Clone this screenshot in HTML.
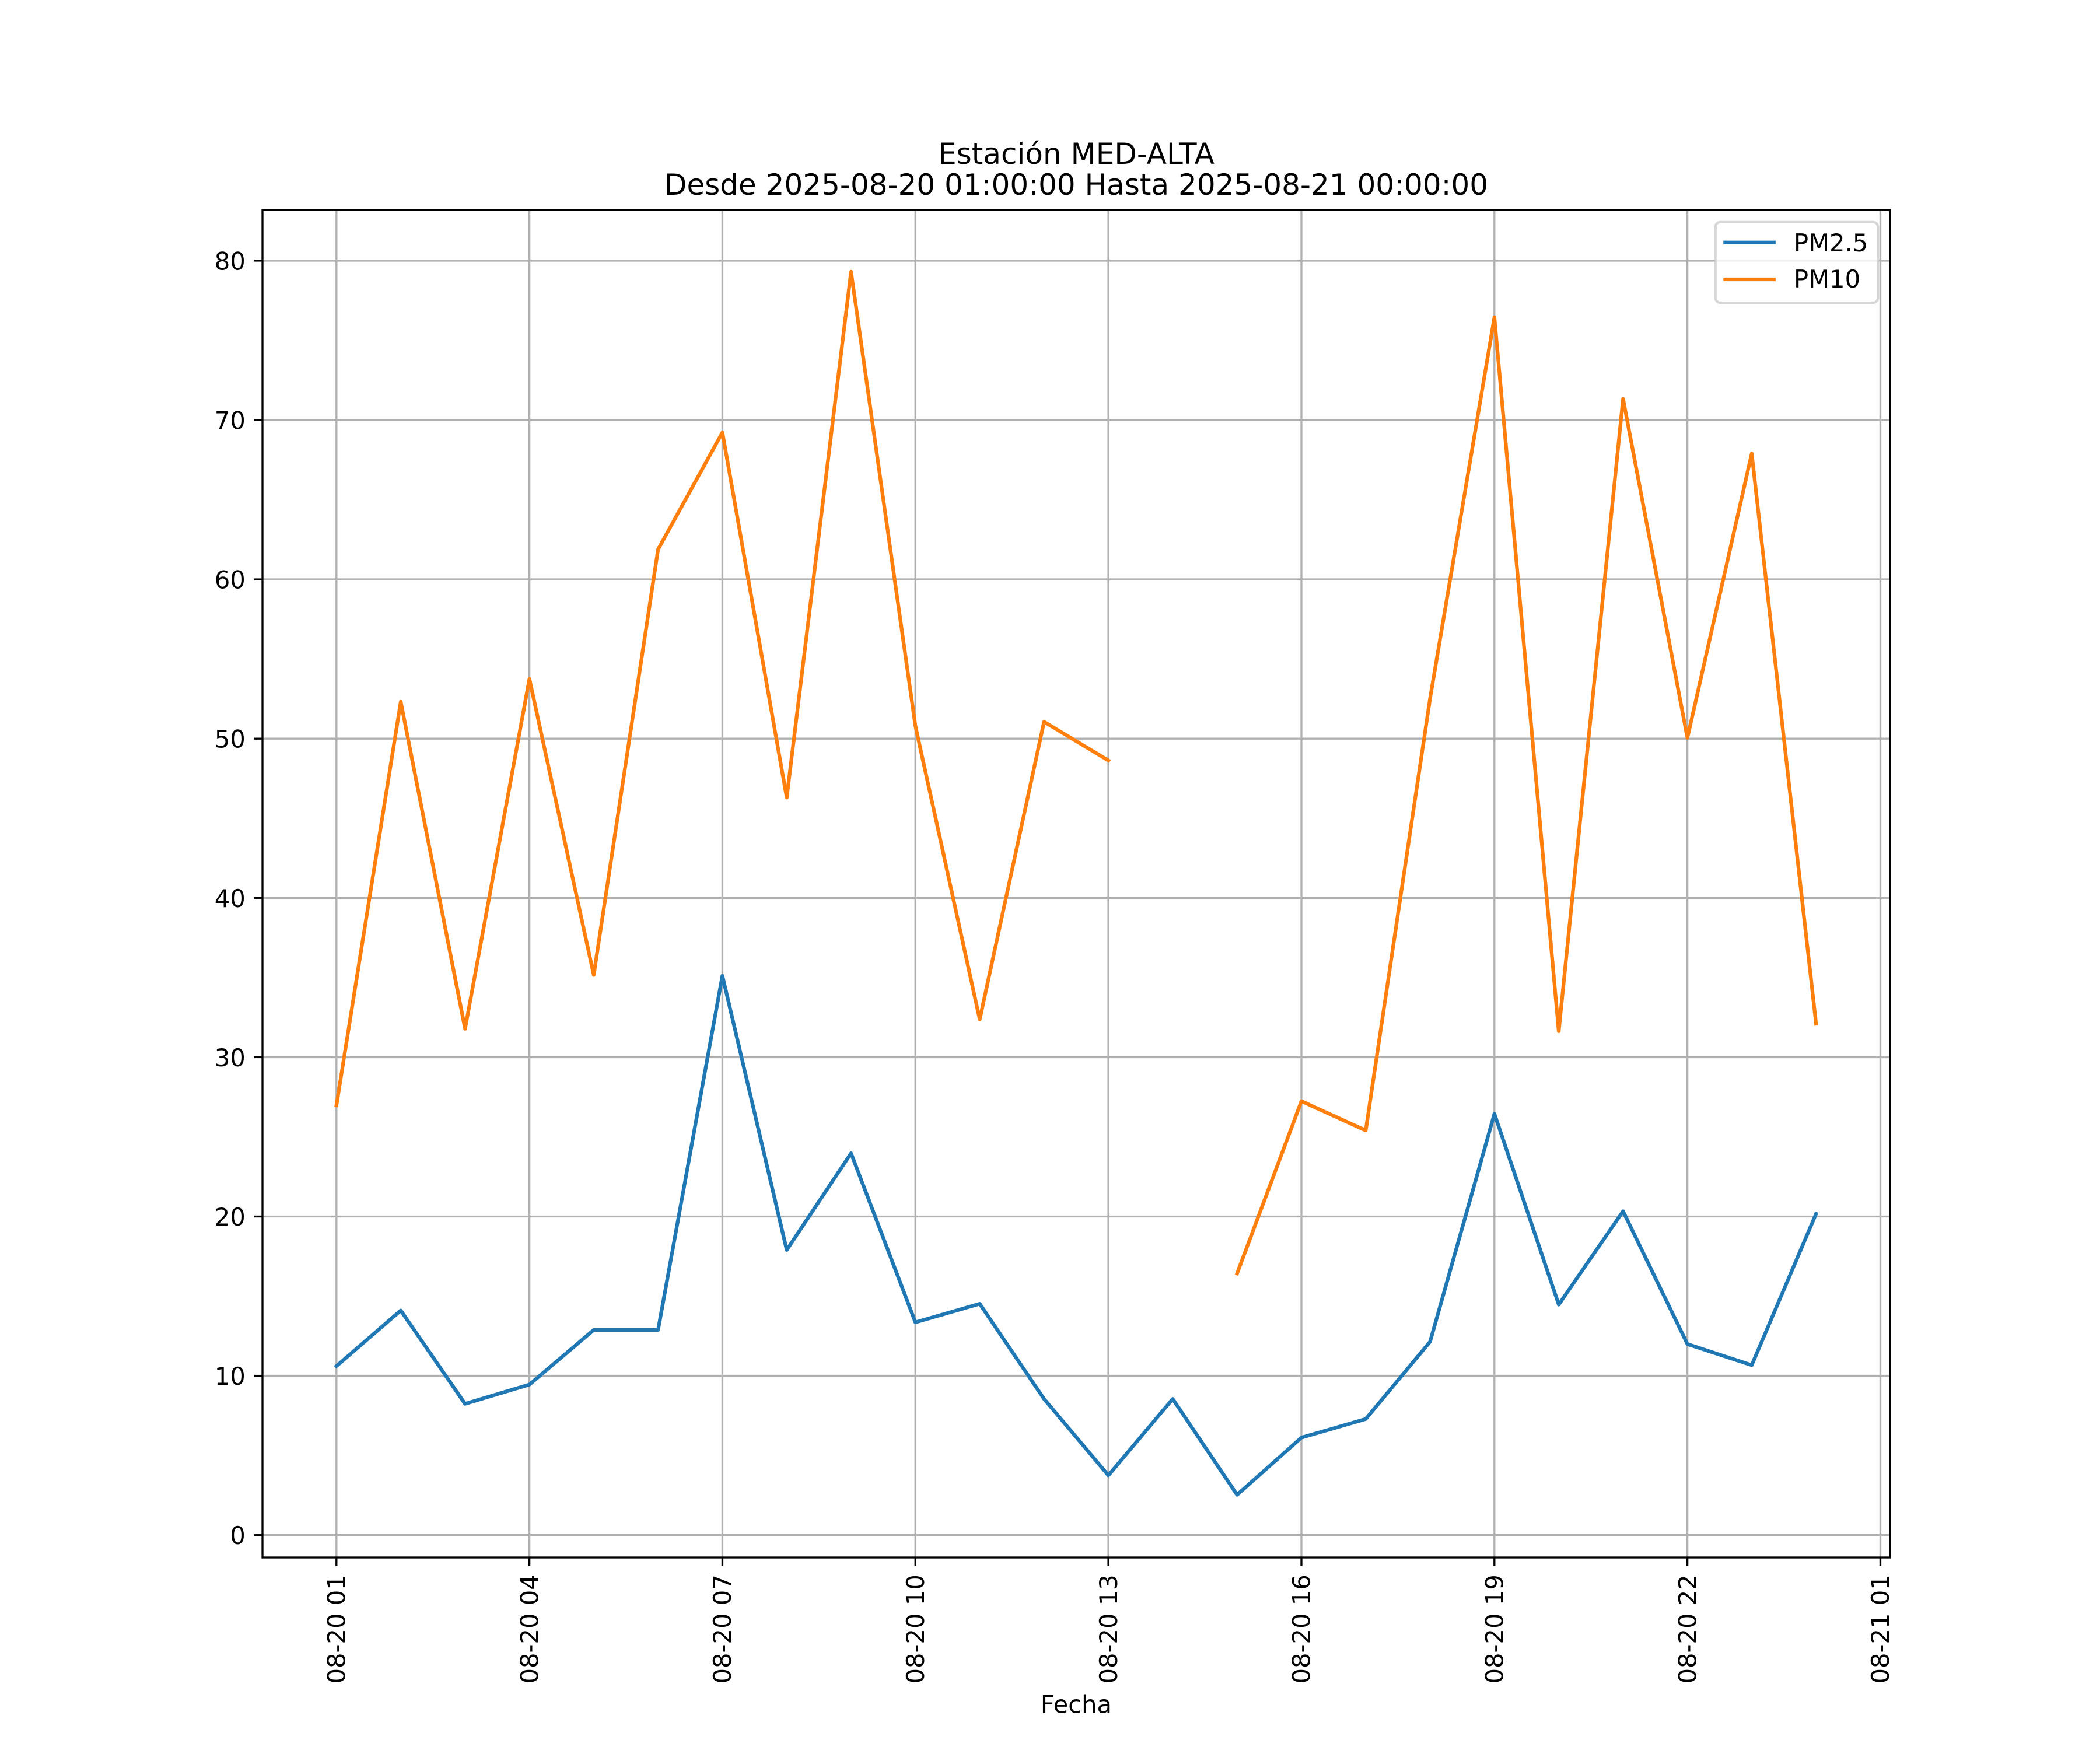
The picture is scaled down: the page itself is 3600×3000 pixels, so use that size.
<!DOCTYPE html>
<html>
<head>
<meta charset="utf-8">
<style>
  html, body { margin: 0; padding: 0; background: #ffffff; }
  svg { display: block; }
  text { font-family: "DejaVu Sans", "Liberation Sans", sans-serif; fill: #000; }
</style>
</head>
<body>
<svg width="3600" height="3000" viewBox="0 0 3600 3000" xmlns="http://www.w3.org/2000/svg">
  <rect x="0" y="0" width="3600" height="3000" fill="#ffffff"/>

  <!-- grid -->
  <g stroke="#b0b0b0" stroke-width="3.33" fill="none">
    <line x1="576.80" y1="360" x2="576.80" y2="2670"/>
    <line x1="907.63" y1="360" x2="907.63" y2="2670"/>
    <line x1="1238.46" y1="360" x2="1238.46" y2="2670"/>
    <line x1="1569.29" y1="360" x2="1569.29" y2="2670"/>
    <line x1="1900.12" y1="360" x2="1900.12" y2="2670"/>
    <line x1="2230.96" y1="360" x2="2230.96" y2="2670"/>
    <line x1="2561.79" y1="360" x2="2561.79" y2="2670"/>
    <line x1="2892.62" y1="360" x2="2892.62" y2="2670"/>
    <line x1="3223.45" y1="360" x2="3223.45" y2="2670"/>

    <line x1="450" y1="2631.7" x2="3240" y2="2631.7"/>
    <line x1="450" y1="2358.6" x2="3240" y2="2358.6"/>
    <line x1="450" y1="2085.5" x2="3240" y2="2085.5"/>
    <line x1="450" y1="1812.4" x2="3240" y2="1812.4"/>
    <line x1="450" y1="1539.3" x2="3240" y2="1539.3"/>
    <line x1="450" y1="1266.2" x2="3240" y2="1266.2"/>
    <line x1="450" y1="993.1" x2="3240" y2="993.1"/>
    <line x1="450" y1="720.0" x2="3240" y2="720.0"/>
    <line x1="450" y1="446.9" x2="3240" y2="446.9"/>
  </g>

  <!-- PM2.5 -->
  <polyline fill="none" stroke="#1f77b4" stroke-width="6.25" stroke-linejoin="round" stroke-linecap="square"
    points="576.80,2341.94 687.08,2246.63 797.35,2406.67 907.63,2373.62 1017.91,2279.95 1128.19,2279.95 1238.46,1672.85 1348.74,2142.85 1459.02,1977.08 1569.29,2266.84 1679.57,2235.16 1789.85,2398.20 1900.12,2529.29 2010.40,2398.20 2120.68,2562.61 2230.96,2464.56 2341.23,2432.61 2451.51,2300.16 2561.79,1909.35 2672.06,2236.52 2782.34,2076.49 2892.62,2304.25 3002.89,2340.30 3113.17,2080.86"/>

  <!-- PM10 -->
  <polyline fill="none" stroke="#ff7f0e" stroke-width="6.25" stroke-linejoin="round" stroke-linecap="square"
    points="576.80,1894.88 687.08,1202.84 797.35,1763.79 907.63,1163.79 1017.91,1671.48 1128.19,941.76 1238.46,741.30 1348.74,1367.25 1459.02,466.02 1569.29,1244.35 1679.57,1747.68 1789.85,1237.25 1900.12,1303.61"/>
  <polyline fill="none" stroke="#ff7f0e" stroke-width="6.25" stroke-linejoin="round" stroke-linecap="square"
    points="2120.68,2183.27 2230.96,1887.78 2341.23,1938.03 2451.51,1197.11 2561.79,543.85 2672.06,1767.88 2782.34,683.68 2892.62,1264.83 3002.89,777.35 3113.17,1755.05"/>

  <!-- spines -->
  <rect x="450" y="360" width="2790" height="2310" fill="none" stroke="#000" stroke-width="3.33" stroke-linejoin="miter"/>

  <!-- ticks -->
  <g stroke="#000" stroke-width="3.33">
    <line x1="576.80" y1="2670" x2="576.80" y2="2684.6"/>
    <line x1="907.63" y1="2670" x2="907.63" y2="2684.6"/>
    <line x1="1238.46" y1="2670" x2="1238.46" y2="2684.6"/>
    <line x1="1569.29" y1="2670" x2="1569.29" y2="2684.6"/>
    <line x1="1900.12" y1="2670" x2="1900.12" y2="2684.6"/>
    <line x1="2230.96" y1="2670" x2="2230.96" y2="2684.6"/>
    <line x1="2561.79" y1="2670" x2="2561.79" y2="2684.6"/>
    <line x1="2892.62" y1="2670" x2="2892.62" y2="2684.6"/>
    <line x1="3223.45" y1="2670" x2="3223.45" y2="2684.6"/>

    <line x1="435.4" y1="2631.7" x2="450" y2="2631.7"/>
    <line x1="435.4" y1="2358.6" x2="450" y2="2358.6"/>
    <line x1="435.4" y1="2085.5" x2="450" y2="2085.5"/>
    <line x1="435.4" y1="1812.4" x2="450" y2="1812.4"/>
    <line x1="435.4" y1="1539.3" x2="450" y2="1539.3"/>
    <line x1="435.4" y1="1266.2" x2="450" y2="1266.2"/>
    <line x1="435.4" y1="993.1" x2="450" y2="993.1"/>
    <line x1="435.4" y1="720.0" x2="450" y2="720.0"/>
    <line x1="435.4" y1="446.9" x2="450" y2="446.9"/>
  </g>

  <!-- y tick labels -->
  <g font-size="41.67" text-anchor="end">
    <text x="420.8" y="2647.2">0</text>
    <text x="420.8" y="2374.1">10</text>
    <text x="420.8" y="2101.0">20</text>
    <text x="420.8" y="1827.9">30</text>
    <text x="420.8" y="1554.8">40</text>
    <text x="420.8" y="1281.7">50</text>
    <text x="420.8" y="1008.6">60</text>
    <text x="420.8" y="735.5">70</text>
    <text x="420.8" y="462.4">80</text>
  </g>

  <!-- x tick labels (rotated) -->
  <g font-size="41.67" text-anchor="end">
    <text transform="translate(591.5,2699.2) rotate(-90)">08-20 01</text>
    <text transform="translate(922.3,2699.2) rotate(-90)">08-20 04</text>
    <text transform="translate(1253.2,2699.2) rotate(-90)">08-20 07</text>
    <text transform="translate(1584.0,2699.2) rotate(-90)">08-20 10</text>
    <text transform="translate(1914.8,2699.2) rotate(-90)">08-20 13</text>
    <text transform="translate(2245.7,2699.2) rotate(-90)">08-20 16</text>
    <text transform="translate(2576.5,2699.2) rotate(-90)">08-20 19</text>
    <text transform="translate(2907.3,2699.2) rotate(-90)">08-20 22</text>
    <text transform="translate(3238.2,2699.2) rotate(-90)">08-21 01</text>
  </g>

  <!-- x label -->
  <text x="1845" y="2936.5" font-size="41.67" text-anchor="middle">Fecha</text>

  <!-- title -->
  <text x="1845" y="281" font-size="50" text-anchor="middle">Estación MED-ALTA</text>
  <text x="1845" y="334" font-size="50" text-anchor="middle">Desde 2025-08-20 01:00:00 Hasta 2025-08-21 00:00:00</text>

  <!-- legend -->
  <rect x="2940.7" y="380.8" width="278.5" height="138.2" rx="8.3" ry="8.3"
        fill="#ffffff" fill-opacity="0.8" stroke="#cccccc" stroke-opacity="0.8" stroke-width="4.17"/>
  <line x1="2957.4" y1="415.7" x2="3040.7" y2="415.7" stroke="#1f77b4" stroke-width="6.25" stroke-linecap="square"/>
  <line x1="2957.4" y1="479" x2="3040.7" y2="479" stroke="#ff7f0e" stroke-width="6.25" stroke-linecap="square"/>
  <text x="3075" y="430.8" font-size="41.67">PM2.5</text>
  <text x="3075" y="493" font-size="41.67">PM10</text>
</svg>
</body>
</html>
